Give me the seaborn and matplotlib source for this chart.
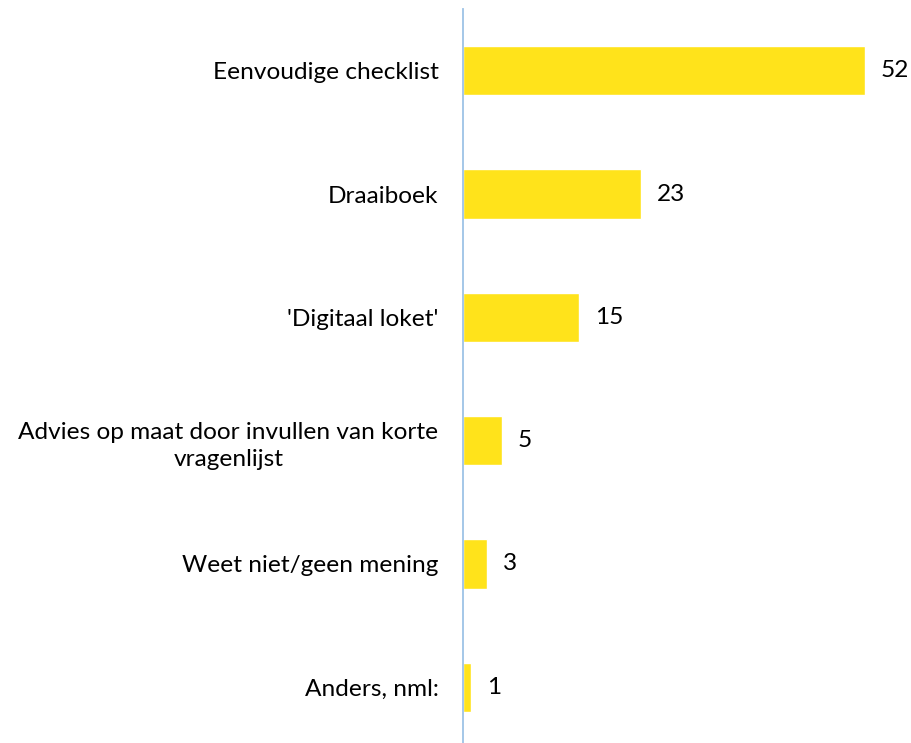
import matplotlib
matplotlib.use("Agg")
import matplotlib.pyplot as plt
import seaborn as sns
import pandas as pd

categories = [
    "Eenvoudige checklist",
    "Draaiboek",
    "'Digitaal loket'",
    "Advies op maat door invullen van korte\nvragenlijst",
    "Weet niet/geen mening",
    "Anders, nml:",
]
values = [52, 23, 15, 5, 3, 1]

sns.set_style("white")
plt.rcParams["font.family"] = ["Lato", "DejaVu Sans"]

df = pd.DataFrame({"categorie": categories, "waarde": values})

W, H = 912, 743
fig = plt.figure(figsize=(W / 100, H / 100), dpi=100)
left_px, top_px, height_px = 463.5, 9, 740
ax = fig.add_axes([left_px / W, (H - top_px - height_px) / H,
                   (W - left_px) / W, height_px / H])

sns.barplot(data=df, x="waarde", y="categorie", orient="h",
            color="#FFE31B", saturation=1, width=0.4, ax=ax)

FS = 17.6
ax.set_xlim(0, (W - left_px) / 7.72)
ax.set_ylim(5.5, -0.5)
ax.set_xlabel("")
ax.set_ylabel("")
ax.set_xticks([])
ax.set_yticks(range(len(categories)))
ax.set_yticklabels(categories, multialignment="center", linespacing=1.4,
                   fontsize=FS, color="#000000")
ax.tick_params(axis="y", length=0, pad=18)

for side in ["top", "right", "bottom"]:
    ax.spines[side].set_visible(False)
ax.spines["left"].set_color("#9DC3E6")
ax.spines["left"].set_linewidth(1.3)

ax.bar_label(ax.containers[0], labels=[str(v) for v in values],
             padding=11.5, fontsize=FS, color="#000000")

fig.savefig("out.png", dpi=100)
